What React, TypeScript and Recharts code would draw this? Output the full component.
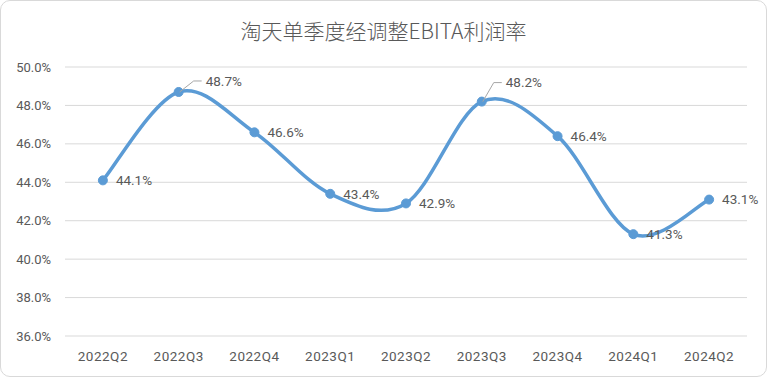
import React from 'react';
import { LineChart, Line, XAxis, YAxis, CartesianGrid, LabelList } from 'recharts';

const quarters = ['2022Q2', '2022Q3', '2022Q4', '2023Q1', '2023Q2', '2023Q3', '2023Q4', '2024Q1', '2024Q2'];
const ebitaMargin = [44.1, 48.7, 46.6, 43.4, 42.9, 48.2, 46.4, 41.3, 43.1];
const yTicks = [36, 38, 40, 42, 44, 46, 48, 50];

const data = quarters.map((q, i) => ({ quarter: q, margin: ebitaMargin[i] }));

// peak labels sit above-right with a leader line: [dx of elbow, lift]
const leaderOffsets: Record<number, [number, number]> = { 1: [15, 11], 5: [12, 19] };

const TEXT = '#595959';
const BLUE = '#5B9BD5';
const NUM_FONT = 'Roboto, "Noto Sans", sans-serif';

// Excel-like smoothing (Catmull-Rom through every point)
const smoothCurve = (context: any) => {
  let pts: number[][] = [];
  return {
    areaStart() {},
    areaEnd() {},
    lineStart() {
      pts = [];
    },
    point(x: number, y: number) {
      pts.push([+x, +y]);
    },
    lineEnd() {
      const n = pts.length;
      if (!n) return;
      context.moveTo(pts[0][0], pts[0][1]);
      for (let i = 0; i < n - 1; i++) {
        const p0 = pts[Math.max(0, i - 1)];
        const p1 = pts[i];
        const p2 = pts[i + 1];
        const p3 = pts[Math.min(n - 1, i + 2)];
        context.bezierCurveTo(
          p1[0] + (p2[0] - p0[0]) / 6,
          p1[1] + (p2[1] - p0[1]) / 6,
          p2[0] - (p3[0] - p1[0]) / 6,
          p2[1] - (p3[1] - p1[1]) / 6,
          p2[0],
          p2[1]
        );
      }
    },
  };
};

const renderLabel = (props: any) => {
  const { x, y, value, index } = props;
  const text = `${Number(value).toFixed(1)}%`;
  const lead = leaderOffsets[index];
  if (lead) {
    const [dx, lift] = lead;
    const ly = y - lift;
    return (
      <g>
        <polyline
          points={`${x + 1},${y} ${x + dx},${ly} ${x + dx + 8},${ly}`}
          fill="none"
          stroke="#a6a6a6"
          strokeWidth={1}
        />
        <text x={x + dx + 12} y={ly} dy="0.36em" fill={TEXT} fontSize={13.5} fontFamily={NUM_FONT}>
          {text}
        </text>
      </g>
    );
  }
  return (
    <text x={x + 13} y={y} dy="0.36em" fill={TEXT} fontSize={13.5} fontFamily={NUM_FONT}>
      {text}
    </text>
  );
};

export default function App() {
  return (
    <div style={{ position: 'relative', width: 767, height: 377, background: '#fff' }}>
      <style>{`body{margin:0}`}</style>
      <div
        style={{
          position: 'absolute',
          left: 0,
          top: 0,
          width: 765,
          height: 375,
          border: '1px solid #d9d9d9',
          borderRadius: 10,
          pointerEvents: 'none',
        }}
      />
      <div
        style={{
          position: 'absolute',
          top: 15,
          left: 0,
          width: 767,
          textAlign: 'center',
          fontFamily: '"Noto Sans CJK SC", sans-serif',
          fontWeight: 300,
          fontSize: 21,
          lineHeight: '30px',
          color: TEXT,
        }}
      >
        淘天单季度经调整EBITA利润率
      </div>
      <LineChart width={767} height={377} data={data} margin={{ top: 67, right: 20, bottom: 0, left: 0 }}>
        <CartesianGrid vertical={false} stroke="#d9d9d9" strokeWidth={1} />
        <XAxis
          dataKey="quarter"
          scale="band"
          axisLine={false}
          tickLine={false}
          tickSize={0}
          tickMargin={15}
          height={41}
          interval={0}
          tick={{ fill: TEXT, fontSize: 13.5, fontFamily: NUM_FONT, letterSpacing: 0.5 }}
        />
        <YAxis
          domain={[36, 50]}
          ticks={yTicks}
          axisLine={false}
          tickLine={false}
          tickSize={0}
          tickMargin={14}
          width={65}
          tickFormatter={(v: number) => `${v.toFixed(1)}%`}
          tick={{ fill: TEXT, fontSize: 13, fontFamily: NUM_FONT }}
        />
        <Line
          dataKey="margin"
          type={smoothCurve as any}
          stroke={BLUE}
          strokeWidth={3.5}
          dot={{ r: 4.5, fill: BLUE, stroke: BLUE, strokeWidth: 1 }}
          activeDot={false}
          isAnimationActive={false}
        >
          <LabelList dataKey="margin" content={renderLabel} />
        </Line>
      </LineChart>
    </div>
  );
}
